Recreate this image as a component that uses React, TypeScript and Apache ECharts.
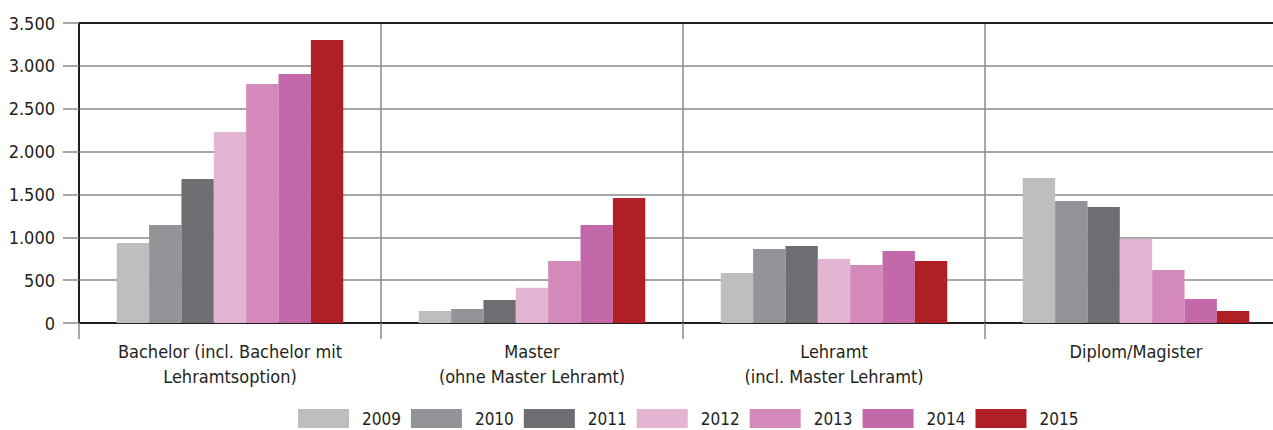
import React, { useEffect, useRef } from "react";
import * as echarts from "echarts";

const categories = [
  "Bachelor (incl. Bachelor mit\nLehramtsoption)",
  "Master\n(ohne Master Lehramt)",
  "Lehramt\n(incl. Master Lehramt)",
  "Diplom/Magister",
];
const years = ["2009", "2010", "2011", "2012", "2013", "2014", "2015"];
const v2009 = [933, 140, 583, 1692];
const v2010 = [1143, 163, 863, 1423];
const v2011 = [1680, 268, 898, 1353];
const v2012 = [2228, 412, 747, 984];
const v2013 = [2788, 723, 677, 618];
const v2014 = [2905, 1143, 840, 280];
const v2015 = [3302, 1458, 723, 140];
const seriesValues = [v2009, v2010, v2011, v2012, v2013, v2014, v2015];
const colors = ["#BDBEC0", "#939497", "#6D6E72", "#E4B5D2", "#D389B9", "#C368A9", "#B01F24"];
const yTicks = { min: 0, max: 3500, interval: 500 };

const FONT = "'Liberation Sans Narrow', 'DejaVu Sans Condensed', 'Liberation Sans', sans-serif";
const TEXT = "#231F20";

function fmt(v: number): string {
  return String(v).replace(/\B(?=(\d{3})+(?!\d))/g, ".");
}

export default function App() {
  const ref = useRef<HTMLDivElement>(null);
  useEffect(() => {
    document.body.style.margin = "0";
    const chart = echarts.init(ref.current!, undefined, { renderer: "svg" });
    chart.setOption({
      animation: false,
      color: colors,
      grid: { left: 79, top: 23, width: 1208, height: 300, containLabel: false },
      legend: {
        left: 298,
        top: 409,
        padding: 0,
        itemWidth: 51,
        itemHeight: 19,
        itemGap: 10,
        icon: "rect",
        data: years,
        textStyle: { fontFamily: FONT, fontSize: 17, color: TEXT, padding: [0, 0, 0, 8] },
      },
      xAxis: [
        {
          type: "category",
          data: categories,
          position: "bottom",
          axisLine: { show: true, lineStyle: { color: "#231F20", width: 2 } },
          axisTick: { show: true, length: 16, lineStyle: { color: "#8A8A8A", width: 1.5 } },
          splitLine: { show: true, lineStyle: { color: "#8A8A8A", width: 1.5 } },
          axisLabel: {
            fontFamily: FONT,
            fontSize: 18,
            color: TEXT,
            lineHeight: 25,
            margin: 16,
            interval: 0,
          },
        },
        {
          type: "category",
          data: categories,
          position: "top",
          axisLine: { show: true, lineStyle: { color: "#231F20", width: 2 } },
          axisTick: { show: false },
          axisLabel: { show: false },
          splitLine: { show: false },
        },
      ],
      yAxis: {
        type: "value",
        min: yTicks.min,
        max: yTicks.max,
        interval: yTicks.interval,
        axisLine: { show: true, lineStyle: { color: "#231F20", width: 2 } },
        axisTick: { show: true, length: 16, lineStyle: { color: "#8A8A8A", width: 1.5 } },
        splitLine: { show: true, lineStyle: { color: "#8A8A8A", width: 1.5 } },
        axisLabel: {
          fontFamily: FONT,
          fontSize: 18,
          color: TEXT,
          margin: 24,
          formatter: (v: number) => fmt(v),
        },
      },
      series: years.map((y, i) => ({
        name: y,
        type: "bar",
        data: seriesValues[i],
        barGap: "0%",
        barCategoryGap: "25%",
        xAxisIndex: 0,
      })),
    });
    return () => chart.dispose();
  }, []);
  return (
    <div style={{ position: "absolute", left: 0, top: 0, width: 1273, height: 430, overflow: "hidden" }}>
      <div ref={ref} style={{ width: 1300, height: 430 }} />
    </div>
  );
}
